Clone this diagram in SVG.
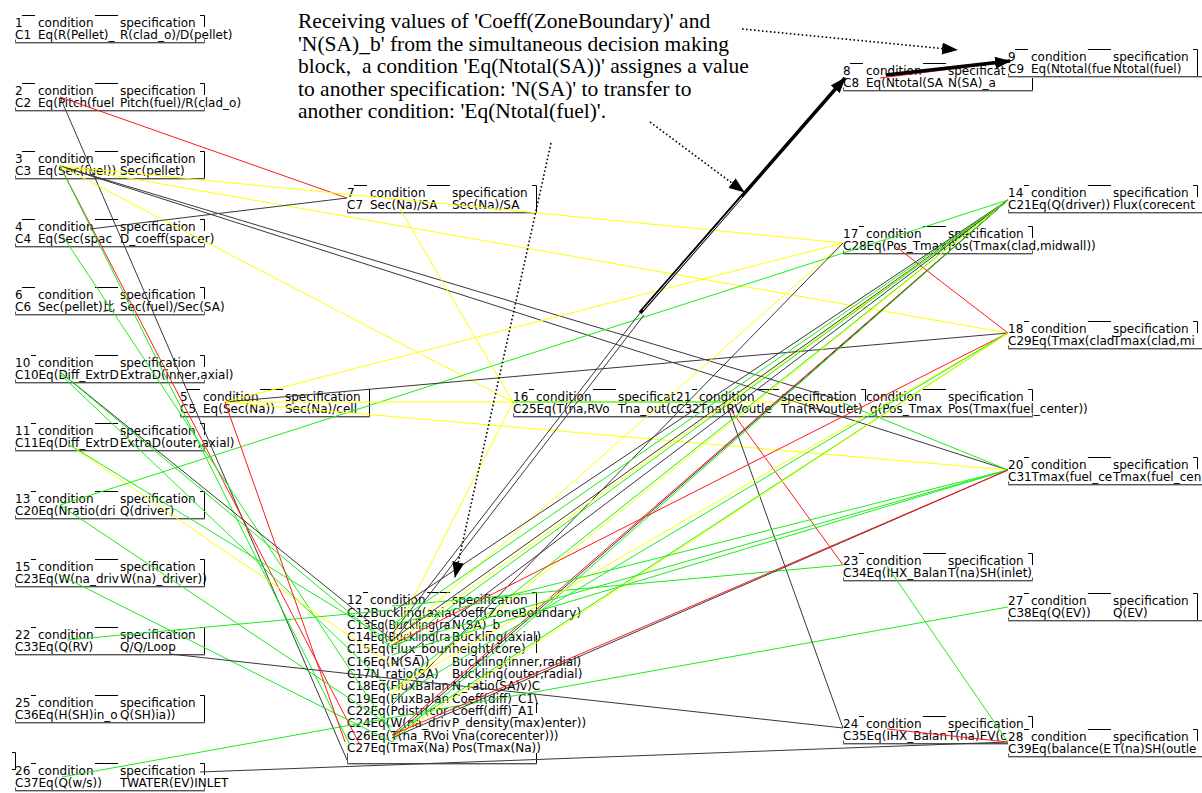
<svg xmlns="http://www.w3.org/2000/svg" width="1202" height="793" viewBox="0 0 1202 793">
<defs>
<style>
text{font-family:"DejaVu Sans","Noto Sans CJK JP",sans-serif;font-size:12px;fill:#000}
.ann{font-family:"Liberation Serif","Times New Roman",serif;font-size:21.5px}
.f{fill:none;stroke:#000;stroke-width:1}
.b{fill:none;stroke:#555;stroke-width:1}
.s{fill:none;stroke:#bbb;stroke-width:1}
#connectors line{stroke-width:1;fill:none}
.k{stroke:#383838}
.r{stroke:#ff1a1a}
.y{stroke:#ffff00}
.g{stroke:#1aee1a}
.dot{stroke:#000;stroke-width:1.6;stroke-dasharray:1.6 2.4;fill:none}
.thick{stroke:#000;stroke-width:3.5;fill:none}
</style>
<marker id="ah" viewBox="0 0 16 12" refX="15" refY="6" markerWidth="16" markerHeight="12" markerUnits="userSpaceOnUse" orient="auto"><path d="M0,0 L16,6 L0,12 z" fill="#000"/></marker>
</defs>
<rect width="1202" height="793" fill="#fff"/>

<g id="node-1">
<path class="f" d="M22 15.5H35M95 15.5H118M200 15.5H204.5V27"/>
<path class="b" d="M15.5 39.5V42.5H204.5V39.5"/><path class="s" d="M15 43.5H205"/>
<text x="15" y="27">1</text><text x="38" y="27">condition</text><text x="120" y="27">specification</text>
<text x="15" y="38.5">C1</text><text x="38" y="38.5">Eq(R(Pellet)_</text><text x="120" y="38.5">R(clad_o)/D(pellet)</text>
</g>
<g id="node-2">
<path class="f" d="M22 83.5H35M95 83.5H118M200 83.5H204.5V95"/>
<path class="b" d="M15.5 107.5V110.5H204.5V107.5"/><path class="s" d="M15 111.5H205"/>
<text x="15" y="95">2</text><text x="38" y="95">condition</text><text x="120" y="95">specification</text>
<text x="15" y="106.5">C2</text><text x="38" y="106.5">Eq(Pitch(fuel</text><text x="120" y="106.5">Pitch(fuel)/R(clad_o)</text>
</g>
<g id="node-3">
<path class="f" d="M22 151.5H35M95 151.5H118M200 151.5H204.5V178.5"/>
<path class="b" d="M15.5 175.5V178.5H204.5"/><path class="s" d="M15 179.5H205"/>
<text x="15" y="163">3</text><text x="38" y="163">condition</text><text x="120" y="163">specification</text>
<text x="15" y="174.5">C3</text><text x="38" y="174.5">Eq(Sec(fuel))</text><text x="120" y="174.5">Sec(pellet)</text>
</g>
<g id="node-4">
<path class="f" d="M22 219.5H35M95 219.5H118M200 219.5H204.5V231"/>
<path class="b" d="M15.5 243.5V246.5H204.5V243.5"/><path class="s" d="M15 247.5H205"/>
<text x="15" y="231">4</text><text x="38" y="231">condition</text><text x="120" y="231">specification</text>
<text x="15" y="242.5">C4</text><text x="38" y="242.5">Eq(Sec(spac</text><text x="120" y="242.5">D_coeff(spacer)</text>
</g>
<g id="node-6">
<path class="f" d="M22 287.5H35M95 287.5H118M200 287.5H204.5V299"/>
<path class="b" d="M15.5 311.5V314.5H204.5V311.5"/><path class="s" d="M15 315.5H205"/>
<text x="15" y="299">6</text><text x="38" y="299">condition</text><text x="120" y="299">specification</text>
<text x="15" y="310.5">C6</text><text x="38" y="310.5">Sec(pellet)比</text><text x="120" y="310.5">Sec(fuel)/Sec(SA)</text>
</g>
<g id="node-10">
<path class="f" d="M31 355.5H36M95 355.5H118M200 355.5H204.5V367"/>
<path class="b" d="M15.5 379.5V382.5H204.5V379.5"/><path class="s" d="M15 383.5H205"/>
<text x="15" y="367">10</text><text x="38" y="367">condition</text><text x="120" y="367">specification</text>
<text x="15" y="378.5">C10</text><text x="38.5" y="378.5">Eq(Diff_ExtrD</text><text x="120" y="378.5">ExtraD(inner,axial)</text>
</g>
<g id="node-11">
<path class="f" d="M31 423.5H36M95 423.5H118M200 423.5H204.5V435"/>
<path class="b" d="M15.5 447.5V450.5H204.5V447.5"/><path class="s" d="M15 451.5H205"/>
<text x="15" y="435">11</text><text x="38" y="435">condition</text><text x="120" y="435">specification</text>
<text x="15" y="446.5">C11</text><text x="38.5" y="446.5">Eq(Diff_ExtrD</text><text x="120" y="446.5">ExtraD(outer,axial)</text>
</g>
<g id="node-13">
<path class="f" d="M31 491.5H36M95 491.5H118M200 491.5H204.5V518.5"/>
<path class="b" d="M15.5 515.5V518.5H204.5"/><path class="s" d="M15 519.5H205"/>
<text x="15" y="503">13</text><text x="38" y="503">condition</text><text x="120" y="503">specification</text>
<text x="15" y="514.5">C20</text><text x="38.5" y="514.5">Eq(Nratio(dri</text><text x="120" y="514.5">Q(driver)</text>
</g>
<g id="node-15">
<path class="f" d="M31 559.5H36M95 559.5H118M200 559.5H204.5V586.5"/>
<path class="b" d="M15.5 583.5V586.5H204.5"/><path class="s" d="M15 587.5H205"/>
<text x="15" y="571">15</text><text x="38" y="571">condition</text><text x="120" y="571">specification</text>
<text x="15" y="582.5">C23</text><text x="38.5" y="582.5">Eq(W(na_driv</text><text x="120" y="582.5">W(na)_driver))</text>
</g>
<g id="node-22">
<path class="f" d="M31 627.5H36M95 627.5H118M200 627.5H204.5V654.5"/>
<path class="b" d="M15.5 651.5V654.5H204.5"/><path class="s" d="M15 655.5H205"/>
<text x="15" y="639">22</text><text x="38" y="639">condition</text><text x="120" y="639">specification</text>
<text x="15" y="650.5">C33</text><text x="38.5" y="650.5">Eq(Q(RV)</text><text x="120" y="650.5">Q/Q/Loop</text>
</g>
<g id="node-25">
<path class="f" d="M31 695.5H36M95 695.5H118M200 695.5H204.5V722.5"/>
<path class="b" d="M15.5 719.5V722.5H204.5"/><path class="s" d="M15 723.5H205"/>
<text x="15" y="707">25</text><text x="38" y="707">condition</text><text x="120" y="707">specification</text>
<text x="15" y="718.5">C36</text><text x="38.5" y="718.5">Eq(H(SH)in_o</text><text x="120" y="718.5">Q(SH)ia))</text>
</g>
<g id="node-26">
<path class="f" d="M31 763.5H36M95 763.5H118M200 763.5H204.5V775"/>
<path class="b" d="M15.5 787.5V790.5H204.5V787.5"/><path class="s" d="M15 791.5H205"/>
<path class="f" d="M12 752.5H15.5V769.5H12"/>
<text x="15" y="775">26</text><text x="38" y="775">condition</text><text x="120" y="775">specification</text>
<text x="15" y="786.5">C37</text><text x="38.5" y="786.5">Eq(Q(w/s))</text><text x="120" y="786.5">TWATER(EV)INLET</text>
</g>

<g id="node-7">
<path class="f" d="M354 185.5H367M427 185.5H450M532 185.5H536.5V212.5"/>
<path class="b" d="M347.5 209.5V212.5H536.5"/><path class="s" d="M347 213.5H537"/>
<text x="347" y="197">7</text><text x="370" y="197">condition</text><text x="452" y="197">specification</text>
<text x="347" y="208.5">C7</text><text x="370" y="208.5">Sec(Na)/SA</text><text x="452" y="208.5">Sec(Na)/SA</text>
</g>
<g id="node-5">
<path class="f" d="M187 389.5H200M260 389.5H283M365 389.5H369.5V416.5"/>
<path class="b" d="M180.5 413.5V416.5H369.5"/><path class="s" d="M180 417.5H370"/>
<text x="180" y="401">5</text><text x="203" y="401">condition</text><text x="285" y="401">specification</text>
<text x="180" y="412.5">C5</text><text x="203" y="412.5">Eq(Sec(Na))</text><text x="285" y="412.5">Sec(Na)/cell</text>
</g>
<g id="node-16">
<path class="f" d="M529 389.5H534M593 389.5H616"/>
<path class="b" d="M513.5 413.5V416.5H676"/><path class="s" d="M513 417.5H676"/>
<text x="513" y="401">16</text><text x="536" y="401">condition</text><text x="618" y="401">specificat</text>
<text x="513" y="412.5">C25</text><text x="536.5" y="412.5">Eq(T(na,RVo</text><text x="618" y="412.5">Tna_out(c</text>
</g>
<g id="node-21">
<path class="f" d="M692 389.5H697M756 389.5H779M861 389.5H865.5V401"/>
<path class="b" d="M676 416.5H843"/><path class="s" d="M676 417.5H843"/>
<text x="676" y="401">21</text><text x="699" y="401">condition</text><text x="781" y="401">specification</text>
<text x="676" y="412.5">C32</text><text x="699.5" y="412.5">Tna(RVoutle</text><text x="781" y="412.5">Tna(RVoutlet)</text>
</g>
<g id="node-19">
<path class="f" d="M923 389.5H946M1028 389.5H1032.5V401"/>
<path class="b" d="M843 416.5H1032.5V413.5"/><path class="s" d="M843 417.5H1033"/>
<text x="866" y="401">condition</text><text x="948" y="401">specification</text>
<text x="870" y="412.5">q(Pos_Tmax</text><text x="948" y="412.5">Pos(Tmax(fuel_center))</text>
</g>
<g id="node-8">
<path class="f" d="M850 63.5H863M923 63.5H946M1032.5 77V90.5"/>
<path class="b" d="M843.5 87.5V90.5H1032.5"/><path class="s" d="M843 91.5H1033"/>
<text x="843" y="75">8</text><text x="866" y="75">condition</text><text x="948" y="75">specificat</text>
<text x="843" y="86.5">C8</text><text x="866" y="86.5">Eq(Ntotal(SA</text><text x="948" y="86.5">N(SA)_a</text>
</g>
<g id="node-9">
<path class="f" d="M1015 49.5H1028M1088 49.5H1111M1193 49.5H1197.5V76.5"/>
<path class="b" d="M1008.5 73.5V76.5H1202"/><path class="s" d="M1008 77.5H1202"/>
<text x="1008" y="61">9</text><text x="1031" y="61">condition</text><text x="1113" y="61">specification</text>
<text x="1008" y="72.5">C9</text><text x="1031" y="72.5">Eq(Ntotal(fue</text><text x="1113" y="72.5">Ntotal(fuel)</text>
</g>
<g id="node-14">
<path class="f" d="M1024 185.5H1029M1088 185.5H1111M1193 185.5H1197.5V197"/>
<path class="b" d="M1008.5 209.5V212.5H1202"/><path class="s" d="M1008 213.5H1202"/>
<text x="1008" y="197">14</text><text x="1031" y="197">condition</text><text x="1113" y="197">specification</text>
<text x="1008" y="208.5">C21</text><text x="1031.5" y="208.5">Eq(Q(driver))</text><text x="1113" y="208.5">Flux(corecent</text>
</g>
<g id="node-17">
<path class="f" d="M859 226.5H864M923 226.5H946M1028 226.5H1032.5V238"/>
<path class="b" d="M843.5 250.5V253.5H1032.5V250.5"/><path class="s" d="M843 254.5H1033"/>
<text x="843" y="238">17</text><text x="866" y="238">condition</text><text x="948" y="238">specification</text>
<text x="843" y="249.5">C28</text><text x="866.5" y="249.5">Eq(Pos_Tmax</text><text x="948" y="249.5">Pos(Tmax(clad,midwall))</text>
</g>
<g id="node-18">
<path class="f" d="M1024 321.5H1029M1088 321.5H1111M1193 321.5H1197.5V333"/>
<path class="b" d="M1008.5 345.5V348.5H1202"/><path class="s" d="M1008 349.5H1202"/>
<text x="1008" y="333">18</text><text x="1031" y="333">condition</text><text x="1113" y="333">specification</text>
<text x="1008" y="344.5">C29</text><text x="1031.5" y="344.5">Eq(Tmax(clad</text><text x="1113" y="344.5">Tmax(clad,mi</text>
</g>
<g id="node-20">
<path class="f" d="M1024 457.5H1029M1088 457.5H1111M1193 457.5H1197.5V469"/>
<path class="b" d="M1008.5 481.5V484.5H1202"/><path class="s" d="M1008 485.5H1202"/>
<text x="1008" y="469">20</text><text x="1031" y="469">condition</text><text x="1113" y="469">specification</text>
<text x="1008" y="480.5">C31</text><text x="1031.5" y="480.5">Tmax(fuel_ce</text><text x="1113" y="480.5">Tmax(fuel_cen</text>
</g>
<g id="node-23">
<path class="f" d="M859 553.5H864M923 553.5H946M1028 553.5H1032.5V565"/>
<path class="b" d="M843.5 577.5V580.5H1032.5V577.5"/><path class="s" d="M843 581.5H1033"/>
<text x="843" y="565">23</text><text x="866" y="565">condition</text><text x="948" y="565">specification</text>
<text x="843" y="576.5">C34</text><text x="866.5" y="576.5">Eq(IHX_Balan</text><text x="948" y="576.5">T(na)SH(inlet)</text>
</g>
<g id="node-27">
<path class="f" d="M1024 593.5H1029M1088 593.5H1111M1193 593.5H1197.5V620.5"/>
<path class="b" d="M1008.5 617.5V620.5H1202"/><path class="s" d="M1008 621.5H1202"/>
<text x="1008" y="605">27</text><text x="1031" y="605">condition</text><text x="1113" y="605">specification</text>
<text x="1008" y="616.5">C38</text><text x="1031.5" y="616.5">Eq(Q(EV))</text><text x="1113" y="616.5">Q(EV)</text>
</g>
<g id="node-24">
<path class="f" d="M859 716.5H864M923 716.5H946M1028 716.5H1032.5V728"/>
<path class="b" d="M843.5 740.5V743.5H1008"/><path class="s" d="M843 744.5H1008"/>
<text x="843" y="728">24</text><text x="866" y="728">condition</text><text x="948" y="728">specification</text>
<text x="843" y="739.5">C35</text><text x="866.5" y="739.5">Eq(IHX_Balan</text><text x="948" y="739.5">T(na)EV(c</text>
</g>
<g id="node-28">
<path class="f" d="M1024 729.5H1029M1088 729.5H1111M1193 729.5H1197.5V741"/>
<path class="b" d="M1008.5 753.5V756.5H1202"/><path class="s" d="M1008 757.5H1202"/>
<text x="1008" y="741">28</text><text x="1031" y="741">condition</text><text x="1113" y="741">specification</text>
<text x="1008" y="752.5">C39</text><text x="1031.5" y="752.5">Eq(balance(E</text><text x="1113" y="752.5">T(na)SH(outle</text>
</g>

<g id="node-12">
<path class="f" d="M363 592.5H368M427 592.5H450M532 592.5H536.5V613M536.5 635V653M536.5 703V713M536.5 753V763.5"/>
<path class="b" d="M347.5 753V763.5H536.5"/><path class="s" d="M347 764.5H537"/>
<text x="347" y="604">12</text><text x="370" y="604">condition</text><text x="452" y="604">specification</text>
<text x="347" y="616.5">C12</text><text x="370.5" y="616.5">Buckling(axia</text><text x="452" y="616.5">Coeff(ZoneBoundary)</text>
<text x="347" y="628.8">C13</text><text x="370.5" y="628.8" textLength="80" lengthAdjust="spacingAndGlyphs">Eq(Buckling(ra</text><text x="452" y="628.8">N(SA)_b</text>
<text x="347" y="641.1">C14</text><text x="370.5" y="641.1" textLength="80" lengthAdjust="spacingAndGlyphs">Eq(Buckling(ra</text><text x="452" y="641.1">Buckling(axial)</text>
<text x="347" y="653.4">C15</text><text x="370.5" y="653.4">Eq(Flux_boun</text><text x="452" y="653.4">height(core)</text>
<text x="347" y="665.7">C16</text><text x="370.5" y="665.7">Eq(N(SA))</text><text x="452" y="665.7">Buckling(inner,radial)</text>
<text x="347" y="678">C17</text><text x="370.5" y="678">N_ratio(SA)</text><text x="452" y="678">Buckling(outer,radial)</text>
<text x="347" y="690.3">C18</text><text x="370.5" y="690.3">Eq(FluxBalan</text><text x="452" y="690.3">N_ratio(SA)v)C</text>
<text x="347" y="702.6">C19</text><text x="370.5" y="702.6">Eq(FluxBalan</text><text x="452" y="702.6">Coeff(diff)_C1\</text>
<text x="347" y="714.9">C22</text><text x="370.5" y="714.9">Eq(Pdistr(cor</text><text x="452" y="714.9">Coeff(diff)_A1</text>
<text x="347" y="727.2">C24</text><text x="370.5" y="727.2">Eq(W(na_driv</text><text x="452" y="727.2">P_density(max)enter))</text>
<text x="347" y="739.5">C26</text><text x="370.5" y="739.5">Eq(T(na_RVoi</text><text x="452" y="739.5">Vna(corecenter)))</text>
<text x="347" y="751.8">C27</text><text x="370.5" y="751.8">Eq(Tmax(Na)</text><text x="452" y="751.8">Pos(Tmax(Na))</text>
</g>

<g id="connectors">
<line class="k" x1="60" y1="97" x2="347" y2="760"/>
<line class="r" x1="60" y1="97" x2="347" y2="198"/>
<line class="y" x1="60" y1="166" x2="843" y2="243"/>
<line class="y" x1="60" y1="166" x2="1008" y2="333"/>
<line class="k" x1="60" y1="166" x2="843" y2="401"/>
<line class="k" x1="60" y1="166" x2="1008" y2="470"/>
<line class="y" x1="60" y1="166" x2="513" y2="402"/>
<line class="r" x1="60" y1="166" x2="360" y2="745"/>
<line class="g" x1="60" y1="166" x2="350" y2="745"/>
<line class="k" x1="90" y1="229" x2="347" y2="198"/>
<line class="g" x1="62" y1="235" x2="392" y2="733"/>
<line class="k" x1="60" y1="372" x2="392" y2="640"/>
<line class="g" x1="60" y1="372" x2="392" y2="648"/>
<line class="g" x1="60" y1="374" x2="392" y2="690"/>
<line class="y" x1="68" y1="444" x2="392" y2="665"/>
<line class="g" x1="68" y1="444" x2="392" y2="642"/>
<line class="g" x1="60" y1="505" x2="1008" y2="200"/>
<line class="g" x1="60" y1="505" x2="392" y2="727"/>
<line class="g" x1="60" y1="575" x2="392" y2="742"/>
<line class="g" x1="67" y1="640" x2="392" y2="610"/>
<line class="k" x1="170" y1="654" x2="843" y2="728"/>
<line class="g" x1="62" y1="777" x2="1008" y2="607"/>
<line class="k" x1="200" y1="772" x2="1008" y2="742"/>
<line class="y" x1="400" y1="209" x2="513" y2="402"/>
<line class="y" x1="225" y1="402" x2="843" y2="402"/>
<line class="g" x1="513" y1="402" x2="727" y2="402"/>
<line class="k" x1="225" y1="402" x2="1008" y2="333"/>
<line class="y" x1="225" y1="402" x2="843" y2="243"/>
<line class="y" x1="225" y1="402" x2="1008" y2="470"/>
<line class="r" x1="225" y1="402" x2="345" y2="742"/>
<line class="k" x1="727" y1="405" x2="843" y2="728"/>
<line class="r" x1="727" y1="405" x2="843" y2="565"/>
<line class="g" x1="843" y1="403" x2="1008" y2="470"/>
<line class="r" x1="895" y1="246" x2="1008" y2="333"/>
<line class="r" x1="887" y1="729" x2="1008" y2="742"/>
<line class="g" x1="887" y1="566" x2="1008" y2="742"/>
<line class="g" x1="392" y1="606" x2="843" y2="565"/>
<line class="y" x1="392" y1="642" x2="843" y2="243"/>
<line class="k" x1="392" y1="705" x2="843" y2="243"/>
<line class="y" x1="392" y1="640" x2="513" y2="402"/>
<line class="k" x1="392" y1="634" x2="640" y2="313"/>
<line class="k" x1="396" y1="638" x2="644" y2="315"/>
<line class="k" x1="392" y1="612" x2="1008" y2="200"/>
<line class="g" x1="392" y1="625" x2="1008" y2="200"/>
<line class="k" x1="392" y1="640" x2="1008" y2="200"/>
<line class="y" x1="392" y1="645" x2="1008" y2="200"/>
<line class="g" x1="392" y1="650" x2="1008" y2="200"/>
<line class="k" x1="392" y1="665" x2="1008" y2="200"/>
<line class="g" x1="392" y1="690" x2="1008" y2="200"/>
<line class="y" x1="392" y1="695" x2="1008" y2="200"/>
<line class="r" x1="392" y1="735" x2="1008" y2="200"/>
<line class="k" x1="392" y1="738" x2="1008" y2="200"/>
<line class="g" x1="392" y1="742" x2="1008" y2="200"/>
<line class="r" x1="392" y1="645" x2="1008" y2="333"/>
<line class="y" x1="392" y1="690" x2="1008" y2="333"/>
<line class="g" x1="392" y1="700" x2="1008" y2="333"/>
<line class="g" x1="392" y1="735" x2="1008" y2="333"/>
<line class="y" x1="392" y1="738" x2="1008" y2="333"/>
<line class="g" x1="392" y1="625" x2="1008" y2="470"/>
<line class="g" x1="392" y1="645" x2="1008" y2="470"/>
<line class="g" x1="392" y1="655" x2="1008" y2="470"/>
<line class="k" x1="392" y1="738" x2="1008" y2="470"/>
<line class="r" x1="392" y1="735" x2="1008" y2="470"/>
<line class="r" x1="880" y1="78" x2="1008" y2="62"/>
</g>

<g id="annotation">
<text class="ann" x="298" y="28">Receiving values of 'Coeff(ZoneBoundary)' and</text>
<text class="ann" x="298" y="50.5">'N(SA)_b' from the simultaneous decision making</text>
<text class="ann" x="298" y="73" xml:space="preserve">block,  a condition 'Eq(Ntotal(SA))' assignes a value</text>
<text class="ann" x="298" y="95.5">to another specification: 'N(SA)' to transfer to</text>
<text class="ann" x="298" y="118">another condition: 'Eq(Ntotal(fuel)'.</text>
<line class="dot" x1="742" y1="29" x2="957" y2="50" marker-end="url(#ah)"/>
<line class="dot" x1="650" y1="122" x2="744" y2="192" marker-end="url(#ah)"/>
<line class="dot" x1="551" y1="143" x2="455" y2="577" marker-end="url(#ah)"/>
<line class="thick" x1="640" y1="313" x2="845" y2="78" marker-end="url(#ah)"/>
<line x1="643" y1="310" x2="742" y2="197" stroke="#fff" stroke-width="1"/>
<line class="thick" x1="886" y1="75" x2="1010" y2="61" marker-end="url(#ah)"/>
</g>
</svg>
